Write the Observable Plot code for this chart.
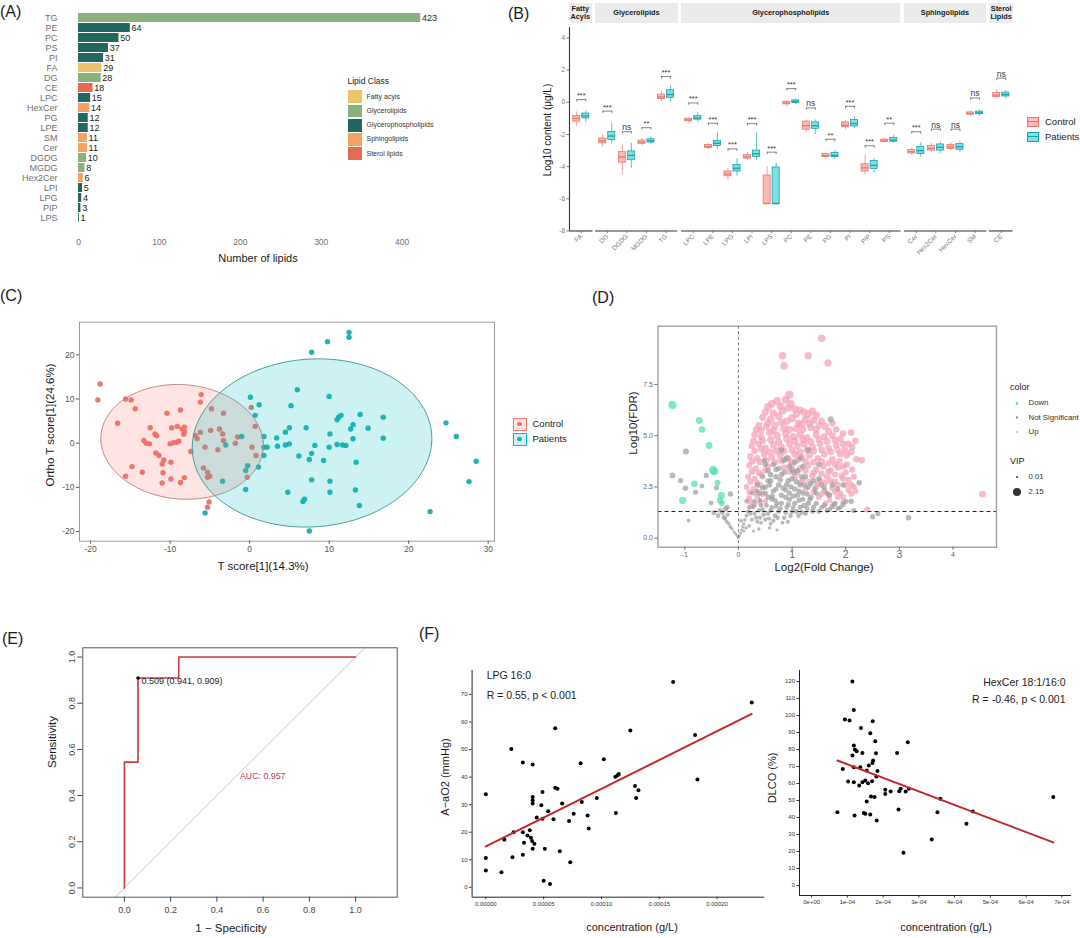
<!DOCTYPE html>
<html>
<head>
<meta charset="utf-8">
<script src="https://cdn.jsdelivr.net/npm/d3@7"></script>
<script src="https://cdn.jsdelivr.net/npm/@observablehq/plot@0.6"></script>
<style>
  body { margin: 0; background: #fff; }
  #fig { position: relative; width: 1080px; height: 938px; overflow: hidden; background: #fff;
         font-family: "Liberation Sans", Arial, Helvetica, sans-serif; }
</style>
</head>
<body>
<div id="fig"></div>
<script>
// ================= DATA =================
// (A) number of lipids per class
const lipidClasses = ["TG","PE","PC","PS","PI","FA","DG","CE","LPC","HexCer","PG","LPE","SM","Cer","DGDG","MGDG","Hex2Cer","LPI","LPG","PIP","LPS"];
const lipidCounts = [423,64,50,37,31,29,28,18,15,14,12,12,11,11,10,8,6,5,4,3,1];
const lipidCategory = ["Glycerolipids","Glycerophospholipids","Glycerophospholipids","Glycerophospholipids","Glycerophospholipids","Fatty acyls","Glycerolipids","Sterol lipids","Glycerophospholipids","Sphingolipids","Glycerophospholipids","Glycerophospholipids","Sphingolipids","Sphingolipids","Glycerolipids","Glycerolipids","Sphingolipids","Glycerophospholipids","Glycerophospholipids","Glycerophospholipids","Glycerophospholipids"];
const categoryNames = ["Fatty acyls","Glycerolipids","Glycerophospholipids","Sphingolipids","Sterol lipids"];
const categoryColors = ["#E9C46A","#8AB17D","#22675F","#F4A261","#E56B4E"];

// (B) log10 content per subclass: box summaries for Control / Patients
const bCats  = ["FA","DG","DGDG","MGDG","TG","LPC","LPE","LPG","LPI","LPS","PC","PE","PG","PI","PIP","PS","Cer","Hex2Cer","HexCer","SM","CE"];
const bClass = ["Fatty Acyls","Glycerolipids","Glycerolipids","Glycerolipids","Glycerolipids",
  "Glycerophospholipids","Glycerophospholipids","Glycerophospholipids","Glycerophospholipids","Glycerophospholipids","Glycerophospholipids",
  "Glycerophospholipids","Glycerophospholipids","Glycerophospholipids","Glycerophospholipids","Glycerophospholipids",
  "Sphingolipids","Sphingolipids","Sphingolipids","Sphingolipids","Sterol Lipids"];
const bClassOrder = ["Fatty Acyls","Glycerolipids","Glycerophospholipids","Sphingolipids","Sterol Lipids"];
const bStripText  = ["Fatty<br>Acyls","Glycerolipids","Glycerophospholipids","Sphingolipids","Sterol<br>Lipids"];
const ctrlLo  = [-1.5,-2.8,-4.5,-2.7,0.05,-1.3,-2.95,-4.85,-3.6,-6.3,-0.3,-1.9,-3.5,-1.7,-4.5,-2.55,-3.3,-3.1,-3.0,-0.85,0.2];
const ctrlQ1  = [-1.2,-2.55,-3.75,-2.58,0.2,-1.18,-2.83,-4.6,-3.5,-6.3,-0.13,-1.7,-3.4,-1.55,-4.3,-2.46,-3.18,-3.0,-2.9,-0.77,0.32];
const ctrlMed = [-1.0,-2.4,-3.4,-2.48,0.33,-1.1,-2.75,-4.45,-3.4,-6.3,-0.05,-1.45,-3.32,-1.42,-4.08,-2.4,-3.08,-2.87,-2.78,-0.7,0.45];
const ctrlQ3  = [-0.85,-2.25,-3.1,-2.38,0.48,-1.02,-2.66,-4.3,-3.27,-4.55,0.03,-1.2,-3.22,-1.25,-3.85,-2.32,-2.97,-2.72,-2.66,-0.63,0.58];
const ctrlHi  = [-0.6,-2.0,-2.65,-2.25,0.7,-0.95,-2.55,-4.1,-3.1,-4.0,0.12,-1.1,-3.15,-1.15,-3.3,-2.25,-2.85,-2.55,-2.5,-0.55,0.75];
const patLo   = [-1.25,-2.6,-4.1,-2.6,0.05,-1.25,-2.95,-4.6,-3.6,-6.3,-0.15,-2.0,-3.55,-1.65,-4.4,-2.55,-3.4,-3.2,-3.1,-0.85,0.2];
const patQ1   = [-1.0,-2.35,-3.6,-2.5,0.28,-1.08,-2.72,-4.3,-3.4,-6.3,-0.04,-1.65,-3.4,-1.5,-4.15,-2.45,-3.22,-3.0,-2.95,-0.74,0.36];
const patMed  = [-0.85,-2.1,-3.3,-2.4,0.48,-0.98,-2.55,-4.1,-3.2,-6.3,0.05,-1.45,-3.3,-1.32,-3.92,-2.35,-3.0,-2.8,-2.76,-0.66,0.48];
const patQ3   = [-0.7,-1.85,-3.05,-2.3,0.75,-0.86,-2.4,-3.9,-3.0,-4.05,0.12,-1.25,-3.15,-1.1,-3.65,-2.22,-2.78,-2.62,-2.6,-0.58,0.6];
const patHi   = [-0.55,-1.3,-2.55,-2.15,1.05,-0.65,-1.85,-3.5,-1.9,-3.8,0.2,-1.1,-3.0,-0.9,-3.5,-2.05,-2.5,-2.45,-2.45,-0.5,0.75];
const sigLabel = ["***","***","ns","**","***","***","***","***","***","***","***","ns","**","***","***","**","***","ns","ns","ns","ns"];
const sigY     = [0.17,-0.55,-1.83,-1.58,1.6,-0.04,-1.3,-2.9,-1.33,-3.1,0.85,-0.35,-2.3,-0.25,-2.7,-1.3,-1.83,-1.67,-1.67,0.27,1.5];

// (C) OPLS-DA scores [T score, orthogonal T score]
const controlScores = [[-18.8,13.4],[-19.1,9.8],[-15.6,10.0],[-14.9,9.8],[-14.4,7.8],[-16.6,4.5],[-14.8,-5.3],[-15.6,-7.5],[-13.5,-6.6],
  [-13.3,0.6],[-13.0,0.0],[-12.6,-0.15],[-12.5,3.5],[-11.9,2.1],[-11.7,1.7],[-11.8,-2.2],[-11.4,-2.8],[-11.0,-4.7],[-10.8,-3.8],
  [-10.9,-6.7],[-11.0,-9.0],[-10.4,6.8],[-9.8,3.5],[-10.0,-0.15],[-9.6,0.1],[-9.2,0.2],[-8.9,0.45],[-8.7,7.5],[-9.1,3.8],[-8.5,3.2],
  [-8.2,3.6],[-8.2,2.6],[-8.3,2.0],[-9.9,-4.3],[-9.9,-8.1],[-8.7,-8.9],[-8.2,-7.8],[-7.4,-1.9],[-6.8,1.7],[-6.6,1.0],[-6.1,11.0],
  [-6.2,9.3],[-6.2,2.5],[-5.6,-0.9],[-5.8,-5.6],[-5.3,-6.6],[-5.3,-7.7],[-5.1,-13.3],[-5.3,-14.5],[-4.8,7.8],[-4.9,2.9],[-4.0,-1.5],
  [-3.8,3.2],[-3.3,6.8],[-3.4,2.1],[-3.3,0.6],[-1.8,0.0],[-1.5,1.4],[0.2,8.1],[0.7,3.8],[0.3,-0.9],[0.8,-2.8],[-0.3,-7.7],[-5.0,-7.5]];
const patientScores = [[-3.0,-0.4],[-3.4,-8.6],[-5.6,-15.8],[-1.0,1.5],[-0.5,-6.2],[-0.25,-5.1],[-0.5,-10.5],[0.1,10.4],[1.2,8.7],
  [0.7,6.3],[1.8,1.5],[1.8,-0.9],[2.2,-0.9],[1.8,-2.8],[1.1,-5.4],[3.4,1.2],[3.5,-0.7],[4.5,2.5],[5.0,3.5],[4.5,-0.4],[5.0,-0.15],
  [5.2,8.5],[6.0,12.1],[6.2,-2.9],[7.1,3.5],[7.5,-3.7],[7.8,-2.3],[8.2,-0.5],[7.8,-8.3],[6.7,-13.2],[6.9,-12.7],[4.8,-11.1],[7.8,20.6],
  [9.3,-3.9],[9.8,23.0],[10.0,10.6],[10.1,2.1],[10.0,-0.9],[10.1,-8.6],[10.1,-11.1],[11.0,-0.3],[11.0,5.3],[11.2,5.9],[11.5,6.3],
  [11.7,-0.4],[12.1,-0.5],[12.5,25.1],[12.5,24.0],[12.7,3.2],[13.0,4.2],[13.0,1.0],[13.4,-4.3],[13.3,-10.6],[13.8,-14.1],[13.9,6.5],
  [14.9,3.4],[16.8,5.9],[16.8,1.1],[22.7,-15.5],[24.7,4.6],[26.0,1.5],[27.6,-8.7],[28.5,-4.1],[7.5,-19.9]];
// 95% ellipses: centre, semi-axes and shear (data units)
const ellipseCx = [-8.5, 7.85], ellipseCy = [0.3, 0.05];
const ellipseRx = [10.2, 15.05], ellipseRy = [13.0, 19.05], ellipseShear = [-0.6, 0.8];

// (D) volcano: [log2 fold change, -log10 FDR, VIP]
const volcanoDown = [[-1.23,6.5,2.1],[-0.73,5.74,1.6],[-0.68,5.3,1.5],[-0.55,4.52,1.6],[-0.47,3.33,2.1],[-0.45,3.25,1.8],[-0.82,2.65,1.5],
  [-0.39,2.7,1.3],[-1.04,1.84,1.7],[-0.32,2.08,1.6],[-0.34,1.84,1.5],[-0.31,1.7,1.2]];
const volcanoUp = [[0.55,6.4,1.9],[0.72,6.7,1.9],[0.88,6.75,1.9],[0.95,7.0,2.0],[0.82,6.2,1.8],[1.05,6.3,1.8],[1.15,6.25,1.7],[1.3,6.05,1.8],
  [0.45,5.9,1.6],[0.6,5.8,1.8],[0.75,5.95,1.7],[0.9,5.7,1.8],[1.0,5.85,1.9],[1.12,5.6,1.7],[1.25,5.8,1.8],[1.4,5.75,1.7],[1.5,5.5,1.6],
  [1.62,5.45,1.7],[0.38,5.5,1.5],[0.52,5.45,1.6],[0.68,5.5,1.7],[0.85,5.35,1.8],[1.35,5.4,1.7],[1.2,5.3,1.6],
  [0.3,5.05,1.5],[0.42,4.95,1.6],[0.58,5.15,1.7],[0.72,5.0,1.8],[0.88,5.1,1.7],[1.02,4.95,1.8],[1.15,5.05,1.7],[1.28,4.9,1.6],
  [1.45,5.05,1.7],[1.6,4.95,1.6],[1.75,5.0,1.6],[1.9,4.85,1.5],[2.1,5.15,1.5],[2.05,4.6,1.5],
  [0.25,4.5,1.4],[0.38,4.6,1.6],[0.5,4.4,1.6],[0.65,4.55,1.7],[0.8,4.45,1.6],[0.95,4.6,1.7],[1.1,4.5,1.6],[1.22,4.6,1.7],[1.38,4.45,1.6],
  [1.52,4.6,1.6],[1.68,4.4,1.5],[1.82,4.55,1.6],[1.98,4.3,1.5],[2.1,4.2,1.5],[2.2,3.85,1.5],[1.9,4.1,1.5],
  [0.22,4.0,1.4],[0.35,3.9,1.5],[0.48,4.1,1.5],[0.62,3.95,1.6],[0.78,4.05,1.6],[0.92,3.9,1.5],[1.05,4.1,1.6],[1.18,3.95,1.5],
  [1.32,4.05,1.6],[1.48,3.9,1.5],[1.6,4.1,1.5],[1.75,3.85,1.5],[1.88,3.75,1.4],[2.02,3.6,1.4],[1.4,4.25,1.6],[0.7,4.25,1.6],
  [0.2,3.55,1.3],[0.32,3.4,1.4],[0.55,3.5,1.4],[0.85,3.45,1.4],[1.0,3.6,1.5],[1.15,3.4,1.4],[1.3,3.55,1.5],[1.45,3.35,1.4],
  [1.58,3.5,1.4],[1.72,3.3,1.4],[1.85,3.45,1.4],[2.0,3.2,1.3],[2.15,3.0,1.3],
  [0.18,3.0,1.3],[0.3,2.9,1.3],[0.42,3.1,1.3],[1.05,3.0,1.3],[1.2,2.85,1.3],[1.38,3.05,1.4],[1.52,2.8,1.3],[1.65,3.0,1.4],
  [1.8,2.75,1.3],[1.95,2.9,1.3],[2.1,2.6,1.3],[2.18,2.3,1.2],
  [0.15,2.5,1.2],[0.28,2.4,1.2],[0.4,2.6,1.3],[1.25,2.4,1.2],[1.45,2.5,1.3],[1.6,2.3,1.2],[1.75,2.45,1.3],[1.9,2.2,1.2],[2.05,2.35,1.2],
  [0.2,1.95,1.2],[0.35,2.05,1.2],[0.5,1.8,1.1],[0.3,1.65,1.1],[1.5,2.0,1.2],[1.7,1.85,1.1],[1.85,2.0,1.2],[1.62,1.7,1.1],
  [0.82,8.9,1.8],[0.85,8.4,1.8],[1.3,8.9,1.7],[1.67,8.55,1.7],[1.55,9.75,1.8],[4.55,2.15,1.6],[2.4,1.4,1.3],[2.3,3.8,1.4],
  [0.98,6.55,1.8],[0.65,6.1,1.7],[1.45,6.0,1.7],[1.75,5.6,1.5],[2.12,4.45,1.5],
  [0.62,6.55,1.8],[0.78,6.45,1.8],[0.92,6.35,1.8],[1.08,6.05,1.7],[1.22,6.15,1.7],[0.5,6.15,1.7],[1.38,6.2,1.7],
  [0.42,5.25,1.6],[0.55,5.62,1.7],[0.65,5.25,1.7],[0.8,5.65,1.8],[0.95,5.3,1.8],[1.08,5.35,1.7],[1.18,5.55,1.7],[1.32,5.6,1.7],
  [1.45,5.3,1.6],[1.55,5.7,1.6],[1.68,5.2,1.6],[1.82,5.3,1.5],[1.95,5.1,1.5],[0.33,5.3,1.5],
  [0.28,4.75,1.5],[0.45,4.75,1.6],[0.6,4.8,1.7],[0.75,4.7,1.7],[0.9,4.85,1.7],[1.05,4.75,1.7],[1.2,4.8,1.6],[1.35,4.7,1.6],
  [1.5,4.82,1.6],[1.65,4.72,1.6],[1.8,4.78,1.5],[1.95,4.6,1.5],[2.18,4.75,1.5],
  [0.3,4.25,1.5],[0.42,4.35,1.5],[0.58,4.2,1.6],[0.85,4.25,1.6],[1.0,4.3,1.6],[1.15,4.2,1.6],[1.28,4.3,1.6],[1.55,4.3,1.5],
  [1.72,4.2,1.5],[1.85,4.3,1.5],[2.02,4.05,1.5],
  [0.26,3.75,1.4],[0.4,3.7,1.5],[0.52,3.8,1.5],[0.68,3.7,1.5],[0.8,3.78,1.5],[0.98,3.72,1.5],[1.1,3.8,1.5],[1.25,3.75,1.5],
  [1.4,3.7,1.5],[1.55,3.75,1.5],[1.68,3.65,1.4],[1.8,3.6,1.4],[1.95,3.5,1.4],[2.12,3.35,1.4],
  [0.25,3.25,1.4],[0.38,3.2,1.4],[0.5,3.3,1.4],[0.95,3.25,1.4],[1.1,3.2,1.4],[1.25,3.28,1.4],[1.4,3.2,1.4],[1.55,3.15,1.4],
  [1.68,3.25,1.4],[1.8,3.1,1.3],[1.92,3.05,1.3],[2.05,2.85,1.3],
  [0.22,2.75,1.3],[0.35,2.7,1.3],[1.15,2.7,1.3],[1.32,2.75,1.3],[1.48,2.65,1.3],[1.62,2.7,1.3],[1.72,2.8,1.3],[1.85,2.6,1.3],
  [2.0,2.6,1.3],[2.15,2.5,1.3],
  [0.2,2.25,1.2],[0.32,2.2,1.2],[0.45,2.15,1.2],[1.4,2.25,1.2],[1.55,2.15,1.2],[1.68,2.1,1.2],[1.8,2.25,1.2],[1.95,2.0,1.2],[2.1,2.15,1.2],
  [0.22,1.75,1.1],[0.4,1.75,1.1],[0.25,1.55,1.1],[1.78,1.65,1.1],[1.95,1.75,1.1]];
const volcanoNS = [[-0.98,4.23,1.3],[-1.23,3.06,1.2],[-1.08,2.81,1.0],[-0.99,2.44,1.1],[-0.8,2.24,1.0],[-0.68,2.54,0.9],[-0.6,3.06,1.0],
  [-0.41,2.46,1.0],[-0.15,2.16,1.1],[-0.51,1.71,0.9],[-0.93,0.86,0.6],[-0.46,1.24,0.9],[-0.34,1.35,0.9],[-0.24,1.43,1.0],[-0.21,1.51,0.9],
  [-0.27,1.02,0.8],[-0.3,1.25,0.9],[-0.38,1.1,0.8],
  [-0.25,0.95,0.7],[-0.22,0.8,0.6],[-0.18,0.7,0.5],[-0.15,0.55,0.5],[-0.12,0.45,0.4],[-0.08,0.3,0.3],[-0.05,0.2,0.3],[-0.02,0.1,0.2],
  [0.0,0.03,0.2],[0.02,0.12,0.2],[0.04,0.25,0.3],[0.06,0.4,0.3],[0.08,0.55,0.4],[0.1,0.7,0.4],[0.12,0.9,0.5],[0.15,1.1,0.6],[0.18,1.3,0.7],
  [-0.2,1.15,0.7],[0.05,0.85,0.5],[0.1,0.35,0.3],[0.14,0.5,0.4],
  [0.2,0.6,0.5],[0.25,0.9,0.6],[0.3,1.2,0.7],[0.35,0.8,0.6],[0.4,1.0,0.7],[0.45,1.4,0.8],[0.5,0.9,0.7],[0.55,1.2,0.8],[0.6,0.7,0.6],
  [0.62,1.5,0.9],[0.68,1.1,0.8],[0.72,0.4,0.3],[0.75,1.3,0.9],[0.8,1.7,1.0],[0.85,1.0,0.8],[0.9,1.5,0.9],[0.95,1.9,1.0],[1.0,1.3,0.9],
  [1.05,1.7,1.0],[1.1,2.1,1.1],[1.15,1.5,1.0],[1.2,1.9,1.0],[1.25,1.2,0.9],[1.3,1.7,1.0],[1.4,1.5,1.0],[1.5,1.3,0.9],[1.6,1.6,1.0],
  [1.7,1.4,0.9],[1.8,1.7,1.0],[1.9,1.5,0.9],[2.0,1.8,1.0],[2.1,1.8,1.1],[2.15,1.35,1.0],[2.5,1.05,1.0],[2.6,1.2,1.0],[3.17,1.0,1.1],
  [0.2,1.5,0.8],[0.3,1.8,0.9],[0.4,2.2,1.0],[0.5,2.5,1.0],[0.55,2.0,1.0],[0.6,2.8,1.1],[0.65,2.3,1.0],[0.7,3.0,1.1],[0.75,2.6,1.1],
  [0.8,2.1,1.0],[0.85,3.2,1.1],[0.9,2.6,1.1],[0.95,2.2,1.0],[1.0,2.9,1.1],[1.05,2.4,1.1],[1.1,3.3,1.1],[1.15,2.6,1.1],[1.2,2.2,1.0],
  [1.25,3.0,1.1],[1.3,2.5,1.1],[1.35,2.0,1.0],[1.4,2.8,1.1],[1.45,2.2,1.0],[1.55,2.6,1.0],[1.65,2.2,1.0],[1.75,2.6,1.0],[1.85,2.4,1.0],
  [0.45,3.0,1.0],[0.55,3.3,1.1],[0.65,3.6,1.1],[0.75,3.4,1.1],[0.85,3.8,1.2],[0.95,3.5,1.1],[1.05,3.7,1.1],[1.2,3.5,1.1],[0.35,2.6,1.0],
  [0.25,2.2,0.9],[0.5,3.6,1.0],[0.8,4.3,1.2],[1.3,4.3,1.2],[1.72,5.8,1.3],[2.25,2.7,1.1],[1.95,2.6,1.0],[0.62,1.9,0.9],[0.72,1.7,0.9],
  [0.42,1.6,0.8],[0.48,3.8,1.0],[1.5,3.6,1.1],[0.58,0.5,0.4],[0.38,0.45,0.4],[0.28,0.35,0.3],[0.92,0.8,0.7],[1.12,1.1,0.8],[0.68,1.85,0.9],
  [0.88,2.35,1.0],[1.02,2.05,1.0],
  [0.15,1.8,0.8],[0.22,1.2,0.7],[0.28,1.55,0.8],[0.33,1.0,0.7],[0.38,1.35,0.8],[0.42,0.75,0.6],[0.47,1.15,0.8],[0.52,1.6,0.9],
  [0.57,0.95,0.7],[0.6,1.35,0.8],[0.65,0.85,0.7],[0.7,1.55,0.9],[0.73,1.0,0.8],[0.78,1.45,0.9],[0.82,0.75,0.6],[0.88,1.25,0.9],
  [0.93,1.65,1.0],[0.97,1.1,0.8],[1.02,1.5,0.9],[1.08,1.3,0.9],[1.13,1.85,1.0],[1.18,1.25,0.9],[1.22,1.6,1.0],[1.28,1.45,0.9],
  [1.33,1.9,1.0],[1.38,1.3,0.9],[1.45,1.7,1.0],[1.55,1.5,0.9],[1.65,1.35,0.9],[1.75,1.55,1.0],[1.85,1.45,0.9],[1.95,1.65,1.0],
  [0.5,2.2,1.0],[0.58,2.6,1.0],[0.63,2.05,1.0],[0.7,2.4,1.0],[0.78,2.85,1.1],[0.83,2.45,1.0],[0.88,2.0,1.0],[0.93,2.8,1.1],
  [0.98,2.5,1.0],[1.03,3.2,1.1],[1.08,2.75,1.1],[1.13,2.3,1.0],[1.18,3.0,1.1],[1.23,2.6,1.0],[1.28,2.15,1.0],[1.35,2.65,1.0],
  [1.42,2.4,1.0],[1.5,2.9,1.1],[1.6,2.45,1.0],[1.7,2.1,1.0],[0.6,3.1,1.1],[0.7,3.35,1.1],[0.8,3.1,1.1],[0.9,3.9,1.2],[1.0,3.35,1.1],
  [1.15,3.9,1.2],[0.55,2.8,1.0],[0.45,2.45,1.0],[0.4,1.85,0.9],[0.35,2.3,0.9]];
const fdrCutoff = 1.3;
const vipRange = [0.01, 2.15];

// (E) ROC curve vertices (1 - specificity, sensitivity)
const rocFpr = [0, 0, 0.059, 0.059, 0.235, 0.235, 1];
const rocTpr = [0, 0.545, 0.545, 0.909, 0.909, 1, 1];
const rocThreshold = 0.509, rocBestSpec = 0.941, rocBestSens = 0.909;
const rocAUC = 0.957;

// (F) correlations: [concentration (g/L), clinical value]
const lpgPoints = [[0,33.8],[0,10.6],[0,6.1],[1.35e-5,5.5],[1.6e-5,17.3],[2.2e-5,50.2],[2.3e-5,10.9],[2.4e-5,20.0],[3.2e-5,45.3],[3.2e-5,20.0],
  [3.2e-5,11.8],[3.3e-5,16.2],[3.6e-5,18.8],[3.8e-5,20.7],[3.9e-5,18.0],[4.0e-5,16.8],[4.05e-5,14.0],[4.05e-5,44.6],[4.05e-5,32.8],
  [4.05e-5,31.6],[4.05e-5,30.4],[4.2e-5,15.8],[4.4e-5,25.3],[4.8e-5,29.8],[4.9e-5,34.6],[4.9e-5,24.9],[5.0e-5,2.4],[5.1e-5,14.0],
  [5.4e-5,27.6],[5.55e-5,1.2],[5.85e-5,24.7],[6.0e-5,57.7],[6.0e-5,36.1],[6.2e-5,35.8],[6.4e-5,13.1],[6.6e-5,30.4],[7.2e-5,24.1],
  [7.3e-5,9.1],[7.6e-5,26.7],[8.2e-5,45.0],[8.3e-5,31.0],[8.8e-5,26.1],[8.9e-5,21.3],[9.6e-5,32.4],[10.2e-5,46.5],[11.25e-5,27.0],
  [11.4e-5,40.7],[11.5e-5,41.1],[11.2e-5,40.1],[12.5e-5,56.9],[12.9e-5,36.8],[13.0e-5,32.4],[13.2e-5,35.2],[16.2e-5,74.5],[18.1e-5,55.3],
  [18.3e-5,39.1],[23.0e-5,67.1]];
const hexcerPoints = [[0.72e-4,43.1],[0.87e-4,68.6],[0.93e-4,97.6],[1.06e-4,97.1],[1.02e-4,61.2],[1.14e-4,120],[1.18e-4,103.3],
  [1.18e-4,82.4],[1.21e-4,80],[1.14e-4,76.5],[1.18e-4,69.6],[1.18e-4,60.8],[1.2e-4,41.2],[1.26e-4,79],[1.33e-4,58.8],[1.36e-4,69.6],
  [1.38e-4,92.7],[1.42e-4,78],[1.42e-4,60.8],[1.46e-4,42.7],[1.5e-4,42.2],[1.54e-4,67.6],[1.5e-4,61.8],[1.54e-4,49.4],[1.58e-4,60.2],
  [1.6e-4,70.6],[1.64e-4,89.6],[1.64e-4,41.8],[1.66e-4,52.4],[1.69e-4,61.4],[1.7e-4,72],[1.72e-4,73.5],[1.71e-4,96.7],[1.76e-4,52],
  [1.78e-4,84.9],[1.8e-4,77.8],[1.81e-4,64.1],[1.82e-4,38.2],[1.84e-4,67.3],[2.06e-4,56.3],[2.06e-4,53.9],[2.21e-4,55.3],[2.39e-4,78],
  [2.43e-4,44.7],[2.45e-4,55.5],[2.49e-4,56.9],[2.57e-4,19.2],[2.63e-4,55.3],[2.69e-4,84.3],[2.72e-4,56.9],[3.36e-4,27.1],[3.52e-4,43.1],
  [3.6e-4,51],[4.33e-4,36.3],[4.51e-4,43.5],[6.76e-4,52]];

// ================= HELPERS =================
const FONT = '"Liberation Sans", Arial, Helvetica, sans-serif';
const fig = document.getElementById("fig");
const baseStyle = {fontFamily: FONT, background: "transparent", overflow: "visible"};

function place(node, left, top) {
  node.style.position = "absolute";
  node.style.left = left + "px";
  node.style.top = top + "px";
  node.style.overflow = "visible";
  fig.appendChild(node);
  return node;
}
function label(text, x, y, o = {}) {
  const {size = 11, color = "#1a1a1a", anchor = "middle", rotate = 0, weight = "normal"} = o;
  const d = document.createElement("div");
  d.innerHTML = text;
  d.style.cssText = `position:absolute;left:${x}px;top:${y}px;font-size:${size}px;color:${color};` +
    `font-weight:${weight};white-space:nowrap;line-height:1.05;text-align:center;`;
  const tx = anchor === "middle" ? "-50%" : anchor === "end" ? "-100%" : "0";
  d.style.transform = `translate(${tx},-50%)` + (rotate ? ` rotate(${rotate}deg)` : "");
  fig.appendChild(d);
  return d;
}
function box(x, y, w, h, css) {
  const d = document.createElement("div");
  d.style.cssText = `position:absolute;left:${x}px;top:${y}px;width:${w}px;height:${h}px;box-sizing:border-box;` + css;
  fig.appendChild(d);
  return d;
}
const minusFree = d => String(d);

// Panel tags
label("(A)", 0, 12, {size: 16, anchor: "start"});
label("(B)", 508, 14, {size: 16, anchor: "start"});
label("(C)", 0, 296, {size: 16, anchor: "start"});
label("(D)", 592, 298, {size: 16, anchor: "start"});
label("(E)", 2, 639, {size: 16, anchor: "start"});
label("(F)", 419, 634, {size: 16, anchor: "start"});

// ================= (A) =================
const dataA = lipidClasses.map((c, i) => ({cls: c, n: lipidCounts[i], cat: lipidCategory[i]}));
place(Plot.plot({
  width: 440, height: 270, marginLeft: 78, marginRight: 6, marginTop: 2.3, marginBottom: 36.3,
  style: baseStyle,
  x: {domain: [0, 440]},
  y: {domain: lipidClasses, padding: 0.1},
  color: {domain: categoryNames, range: categoryColors},
  marks: [
    Plot.barX(dataA, {x: "n", y: "cls", fill: "cat"}),
    Plot.text(dataA, {x: "n", y: "cls", text: d => String(d.n), textAnchor: "start", dx: 1.2, fontSize: 9, fill: "#1a1a1a"}),
    Plot.axisX({ticks: [0, 100, 200, 300, 400], tickSize: 0, tickPadding: 5, fontSize: 8.5, color: "#707070", label: null}),
    Plot.axisY({tickSize: 0, tickPadding: 21, fontSize: 9, color: "#707070", label: null})
  ]
}), 0, 0);
label("Number of lipids", 258, 258.5, {size: 11});
label("Lipid Class", 347.5, 81, {size: 8.5, anchor: "start", color: "#222"});
categoryNames.forEach((name, i) => {
  const yc = 96.7 + i * 14.25;
  box(347.7, yc - 6.4, 14, 12.8, `background:${categoryColors[i]};`);
  label(name, 366.5, yc, {size: 7, anchor: "start", color: "#333"});
});

// ================= (B) =================
const UNIT = 19.6, GAP = 3.3, Y_B = [-8, 4.65];
const dodge = {Control: -0.23, Patients: 0.23};
const HALF = 0.18;
const boxStyle = {Control: {stroke: "#E8776E", fill: "#F8766D"}, Patients: {stroke: "#12A6AA", fill: "#00BFC4"}};
let cursor = 568.5;
bClassOrder.forEach((cls, gi) => {
  const idx = bCats.map((c, i) => i).filter(i => bClass[i] === cls);
  const cats = idx.map(i => bCats[i]);
  const n = cats.length;
  const w = (n + 0.2) * UNIT;
  const rows = [];
  idx.forEach((k, j) => {
    rows.push({i: j, grp: "Control", lo: ctrlLo[k], q1: ctrlQ1[k], med: ctrlMed[k], q3: ctrlQ3[k], hi: ctrlHi[k]});
    rows.push({i: j, grp: "Patients", lo: patLo[k], q1: patQ1[k], med: patMed[k], q3: patQ3[k], hi: patHi[k]});
  });
  const sig = idx.map((k, j) => ({i: j, label: sigLabel[k], y: sigY[k]}));
  const ends = sig.flatMap(s => [{x: s.i + dodge.Control, y: s.y}, {x: s.i + dodge.Patients, y: s.y}]);
  const marks = [];
  for (const g of ["Control", "Patients"]) {
    const r = rows.filter(d => d.grp === g);
    const st = boxStyle[g];
    const xc = d => d.i + dodge[g];
    marks.push(
      Plot.ruleX(r, {x: xc, y1: "lo", y2: "q1", stroke: st.stroke, strokeWidth: 0.7}),
      Plot.ruleX(r, {x: xc, y1: "q3", y2: "hi", stroke: st.stroke, strokeWidth: 0.7}),
      Plot.rect(r, {x1: d => xc(d) - HALF, x2: d => xc(d) + HALF, y1: "q1", y2: "q3",
        fill: st.fill, fillOpacity: 0.5, stroke: st.stroke, strokeWidth: 0.8}),
      Plot.ruleY(r, {y: "med", x1: d => xc(d) - HALF, x2: d => xc(d) + HALF, stroke: st.stroke, strokeWidth: 1.3})
    );
  }
  marks.push(
    Plot.link(sig, {x1: d => d.i + dodge.Control, x2: d => d.i + dodge.Patients, y1: "y", y2: "y", stroke: "#333", strokeWidth: 0.6}),
    Plot.ruleX(ends, {x: "x", y1: d => d.y - 0.15, y2: "y", stroke: "#333", strokeWidth: 0.6}),
    Plot.text(sig, {x: "i", y: "y", text: "label", dy: -1.5, lineAnchor: "bottom", fontSize: d => d.label === "ns" ? 8.5 : 7.5, fill: "#333"}),
    Plot.ruleY([Y_B[0]], {stroke: "#333", strokeWidth: 1.1}),
    Plot.axisX({ticks: d3.range(n), tickFormat: i => cats[i], tickRotate: -45, tickSize: 2.5, tickPadding: 2,
      fontSize: 6.5, color: "#777", label: null})
  );
  const mL = gi === 0 ? 30 : 0;
  if (gi === 0) {
    marks.push(
      Plot.ruleX([-0.6], {stroke: "#333", strokeWidth: 1.1}),
      Plot.axisY({ticks: [-8, -6, -4, -2, 0, 2, 4], tickFormat: minusFree, tickSize: 2.5, tickPadding: 2,
        fontSize: 6.5, color: "#777", label: null})
    );
  }
  place(Plot.plot({
    width: w + mL, height: 270, marginLeft: mL, marginRight: 0, marginTop: 27, marginBottom: 39.5,
    style: baseStyle,
    x: {domain: [-0.6, n - 0.4], axis: null},
    y: {domain: Y_B, axis: null},
    marks
  }), cursor - mL, 0);
  const strip = box(cursor, 3.3, w, 20, "background:#EBEBEB;display:flex;align-items:center;justify-content:center;");
  strip.innerHTML = `<span style="font-size:7.3px;font-weight:bold;color:#1a1a1a;text-align:center;line-height:1.15;">${bStripText[gi]}</span>`;
  cursor += w + GAP;
});
label("Log10 content (μg/L)", 548, 130, {size: 10, rotate: -90});
[["Control", 121.7], ["Patients", 136.7]].forEach(([g, yc]) => {
  const st = boxStyle[g];
  box(1027, yc - 5, 12, 10, `border:1px solid ${st.stroke};background:${st.fill}80;`);
  box(1027, yc - 0.6, 12, 1.3, `background:${st.stroke};`);
  label(g, 1045, yc, {size: 9.5, anchor: "start", color: "#222"});
});

// ================= (C) =================
const ellipse = k => d3.range(0, 361, 3).map(deg => {
  const t = deg * Math.PI / 180;
  return {x: ellipseCx[k] + ellipseRx[k] * Math.cos(t) + ellipseShear[k] * Math.sin(t), y: ellipseCy[k] + ellipseRy[k] * Math.sin(t)};
});
const toXY = a => a.map(([x, y]) => ({x, y}));
place(Plot.plot({
  width: 520, height: 300, marginLeft: 79, marginRight: 26, marginTop: 41.7, marginBottom: 39.3,
  style: baseStyle,
  x: {domain: [-21.4, 30.8]},
  y: {domain: [-22.2, 27.4]},
  marks: [
    Plot.dot(toXY(controlScores), {x: "x", y: "y", r: 2.7, fill: "#EC6F65", fillOpacity: 0.95}),
    Plot.dot(toXY(patientScores), {x: "x", y: "y", r: 2.7, fill: "#15AFAF", fillOpacity: 0.95}),
    Plot.line(ellipse(0), {x: "x", y: "y", curve: "linear-closed", fill: "#F8766D", fillOpacity: 0.2, stroke: "#B9807A", strokeWidth: 0.9}),
    Plot.line(ellipse(1), {x: "x", y: "y", curve: "linear-closed", fill: "#00BFC4", fillOpacity: 0.2, stroke: "#3A958E", strokeWidth: 0.9}),
    Plot.frame({stroke: "#9a9a9a"}),
    Plot.axisX({ticks: [-20, -10, 0, 10, 20, 30], tickFormat: minusFree, tickSize: 3, tickPadding: 2, fontSize: 8.5, color: "#555", label: null}),
    Plot.axisY({ticks: [-20, -10, 0, 10, 20], tickFormat: minusFree, tickSize: 3, tickPadding: 2, fontSize: 8.5, color: "#555", label: null})
  ]
}), 0, 280);
label("T score[1](14.3%)", 263, 566, {size: 11.5});
label("Ortho T score[1](24.6%)", 50, 425, {size: 11.5, rotate: -90});
[["Control", 424, "#F8766D", "#EC6F65"], ["Patients", 439, "#00BFC4", "#15AFAF"]].forEach(([g, yc, c, dc]) => {
  box(512.5, yc - 6.5, 14, 13, `border:1px solid ${c};background:${c}33;`);
  box(517.3, yc - 2.2, 4.4, 4.4, `border-radius:50%;background:${dc};`);
  label(g, 532.5, yc, {size: 9.5, anchor: "start", color: "#222"});
});

// ================= (D) =================
const toV = (a, status) => a.map(([fc, fdr, vip]) => ({fc, fdr, vip, status}));
const volcanoColors = {Down: "#4BE0B0", "Not Significant": "#9C9C9C", Up: "#F5A0B4"};
const vMarks = [["Up", volcanoUp], ["Not Significant", volcanoNS], ["Down", volcanoDown]].map(([s, a]) =>
  Plot.dot(toV(a, s), {x: "fc", y: "fdr", r: "vip", fill: volcanoColors[s], fillOpacity: 0.72}));
place(Plot.plot({
  width: 400, height: 260, marginLeft: 57.5, marginRight: 4, marginTop: 25.7, marginBottom: 13.3,
  style: baseStyle,
  x: {domain: [-1.5, 4.81]},
  y: {domain: [-0.44, 10.34]},
  r: {type: "linear", domain: vipRange, range: [1.1, 4.3]},
  marks: [
    ...vMarks,
    Plot.ruleX([0], {stroke: "#777", strokeDasharray: "3,2.5", strokeWidth: 1}),
    Plot.ruleY([fdrCutoff], {stroke: "#222", strokeDasharray: "4,3", strokeWidth: 1}),
    Plot.frame({stroke: "#a0a0a0", strokeWidth: 1.4}),
    Plot.axisX({ticks: [-1, 0, 4], tickFormat: minusFree, tickSize: 3, tickPadding: 1.5, fontSize: 7, color: "#666", label: null}),
    Plot.axisX({ticks: [1, 2, 3], tickFormat: minusFree, tickSize: 3, tickPadding: 0.5, fontSize: 10.5, color: "#666", label: null}),
    Plot.axisY({ticks: [0, 2.5, 5, 7.5], tickFormat: d3.format(".1f"), tickSize: 3, tickPadding: 2, fontSize: 7, color: "#666", label: null})
  ]
}), 600, 300);
label("Log2(Fold Change)", 824, 567, {size: 11.5});
label("Log10(FDR)", 632.5, 423, {size: 11.5, rotate: -90});
label("color", 1010, 388, {size: 9, anchor: "start", color: "#222"});
[["Down", 403.3], ["Not Significant", 417.7], ["Up", 432]].forEach(([s, yc]) => {
  box(1015.8, yc - 1.3, 2.6, 2.6, `border-radius:50%;background:${volcanoColors[s]};`);
  label(s, 1028.5, yc, {size: 7.8, anchor: "start", color: "#333"});
});
label("VIP", 1010, 461.5, {size: 9, anchor: "start", color: "#222"});
[["0.01", 477.3, 1.1], ["2.15", 491.7, 3.9]].forEach(([t, yc, r]) => {
  box(1017.2 - r, yc - r, 2 * r, 2 * r, "border-radius:50%;background:#333;");
  label(t, 1028.5, yc, {size: 7.8, anchor: "start", color: "#333"});
});

// ================= (E) =================
const rocRows = rocFpr.map((f, i) => ({fpr: f, tpr: rocTpr[i]}));
const Y_E = [-0.04, 1.04];
const best = {fpr: 1 - rocBestSpec, tpr: rocBestSens,
  text: `${rocThreshold.toFixed(3)} (${rocBestSpec.toFixed(3)}, ${rocBestSens.toFixed(3)})`};
place(Plot.plot({
  width: 420, height: 338, marginLeft: 82.3, marginRight: 23.3, marginTop: 47.3, marginBottom: 41.3,
  style: baseStyle,
  x: {domain: [-0.18, 1.18]},
  y: {domain: Y_E},
  marks: [
    Plot.line(Y_E, {x: d => d, y: d => d, stroke: "#C4C0C8", strokeWidth: 1}),
    Plot.line(rocRows, {x: "fpr", y: "tpr", stroke: "#CC3A3A", strokeWidth: 1.6}),
    Plot.dot([best], {x: "fpr", y: "tpr", r: 1.8, fill: "#000"}),
    Plot.text([best], {x: "fpr", y: "tpr", text: "text", textAnchor: "start", lineAnchor: "top", dx: 3.5, dy: -0.5, fontSize: 9, fill: "#222"}),
    Plot.text([{x: 0.5, y: 0.5, text: `AUC: ${rocAUC.toFixed(3)}`}], {x: "x", y: "y", text: "text", textAnchor: "start", lineAnchor: "top", fontSize: 8.8, fill: "#C2334A"}),
    Plot.frame({stroke: "#555"}),
    Plot.axisX({ticks: [0, 0.2, 0.4, 0.6, 0.8, 1], tickFormat: d3.format(".1f"), tickSize: 5, tickPadding: 4.5, fontSize: 9, color: "#444", label: null}),
    Plot.axisY({ticks: [0, 0.2, 0.4, 0.6, 0.8, 1], tickFormat: d3.format(".1f"), tickSize: 5, tickPadding: 3, tickRotate: -90, fontSize: 9, color: "#444", label: null})
  ]
}), 0, 600);
label("1 − Specificity", 231, 928, {size: 11.5});
label("Sensitivity", 51.5, 742, {size: 11.5, rotate: -90});

// ================= (F) =================
const expFmt = v => v.toExponential(0).replace(/e([+-])(\d)$/, (m, s, d) => `e${s}0${d}`);
const corrPlot = (pts, o) => Plot.plot({
  width: o.width, height: 250, marginLeft: o.mL, marginRight: o.mR, marginTop: 10, marginBottom: o.mB,
  style: baseStyle,
  x: {domain: o.xDomain},
  y: {domain: o.yDomain},
  marks: [
    Plot.ruleX([o.xDomain[0]], {stroke: "#222", strokeWidth: 1}),
    Plot.ruleY([o.yDomain[0]], {stroke: "#222", strokeWidth: 1}),
    Plot.dot(pts.map(([x, y]) => ({x, y})), {x: "x", y: "y", r: 2, fill: "#000"}),
    Plot.linearRegressionY(pts.map(([x, y]) => ({x, y})), {x: "x", y: "y", stroke: "#C3282B", strokeWidth: 2, ci: 0}),
    Plot.axisX({ticks: o.xTicks, tickFormat: o.xFmt, tickSize: 2.5, tickPadding: 2, fontSize: 6, color: "#333", label: null}),
    Plot.axisY({ticks: o.yTicks, tickFormat: minusFree, tickSize: 2.5, tickPadding: 2, fontSize: 6, color: "#333", label: null})
  ]
});
place(corrPlot(lpgPoints, {width: 340, mL: 31.6, mR: 15.7, mB: 13.3,
  xDomain: [-1.19e-5, 2.413e-4], yDomain: [-3.6, 78.7],
  xTicks: [0, 5e-5, 1e-4, 1.5e-4, 2e-4], xFmt: d3.format(".5f"), yTicks: d3.range(0, 71, 10)}), 440, 660);
place(corrPlot(hexcerPoints, {width: 310, mL: 29, mR: 9, mB: 15,
  xDomain: [-0.34e-4, 7.27e-4], yDomain: [-5.9, 126.5],
  xTicks: d3.range(0, 8).map(k => k * 1e-4), xFmt: expFmt, yTicks: d3.range(0, 121, 10)}), 770, 660);
label("LPG 16:0", 486.7, 676, {size: 10.5, anchor: "start", color: "#222"});
label("R = 0.55, p &lt; 0.001", 486.7, 696, {size: 10.5, anchor: "start", color: "#222"});
label("HexCer 18:1/16:0", 1065.5, 683, {size: 10.5, anchor: "end", color: "#222"});
label("R = -0.46, p &lt; 0.001", 1065.5, 699.5, {size: 10.5, anchor: "end", color: "#222"});
label("A−aO2 (mmHg)", 445.5, 777, {size: 11, rotate: -90});
label("DLCO (%)", 773, 778, {size: 11, rotate: -90});
label("concentration (g/L)", 632, 928, {size: 11});
label("concentration (g/L)", 946, 928, {size: 11});
</script>
</body>
</html>
